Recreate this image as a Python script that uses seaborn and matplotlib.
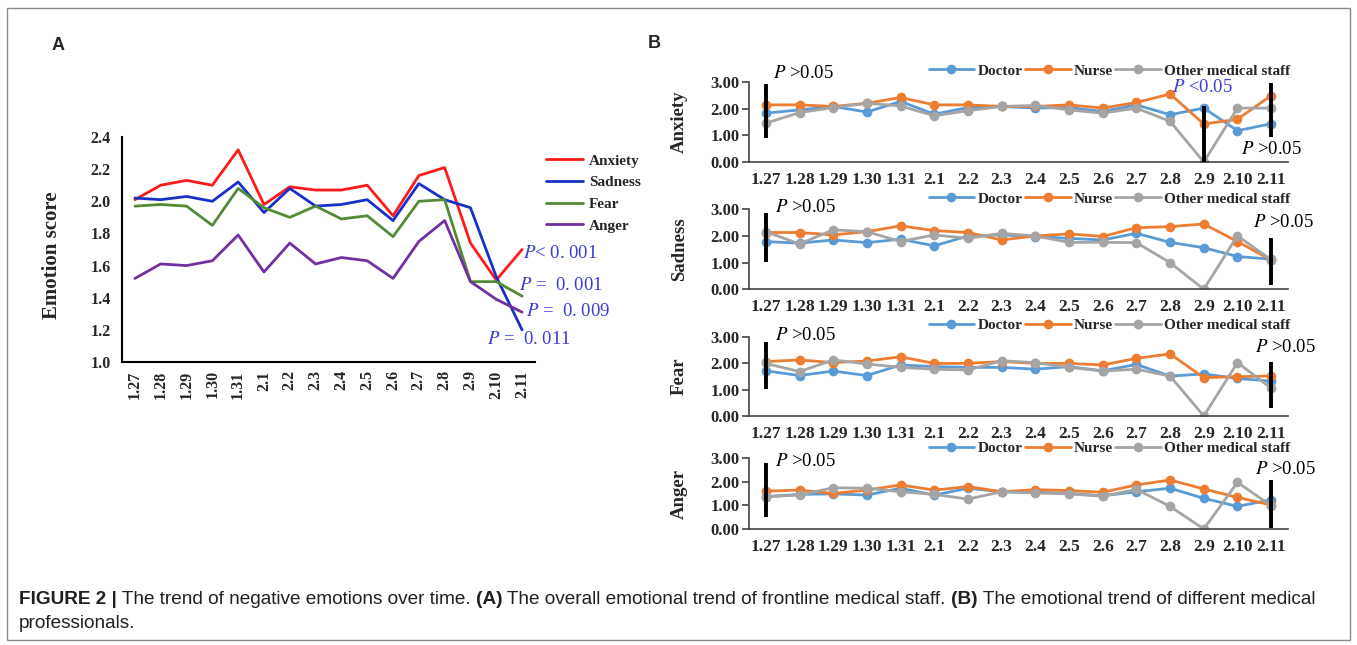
import matplotlib
matplotlib.use("Agg")
import matplotlib.pyplot as plt
import matplotlib.patches as mpatches
from matplotlib.lines import Line2D
import seaborn as sns
import pandas as pd
import numpy as np

# ---------------- data ----------------
dates = ["1.27", "1.28", "1.29", "1.30", "1.31", "2.1", "2.2", "2.3", "2.4",
         "2.5", "2.6", "2.7", "2.8", "2.9", "2.10", "2.11"]

# Panel A: overall emotion score
anxiety = [2.01, 2.10, 2.13, 2.10, 2.32, 1.98, 2.09, 2.07, 2.07, 2.10, 1.91, 2.16, 2.21, 1.74, 1.51, 1.70]
sadness = [2.02, 2.01, 2.03, 2.00, 2.12, 1.93, 2.08, 1.97, 1.98, 2.01, 1.88, 2.11, 2.01, 1.96, 1.53, 1.20]
fear    = [1.97, 1.98, 1.97, 1.85, 2.08, 1.96, 1.90, 1.97, 1.89, 1.91, 1.78, 2.00, 2.01, 1.50, 1.50, 1.41]
anger   = [1.52, 1.61, 1.60, 1.63, 1.79, 1.56, 1.74, 1.61, 1.65, 1.63, 1.52, 1.75, 1.88, 1.50, 1.39, 1.31]
emotions_a = ["Anxiety", "Sadness", "Fear", "Anger"]
p_texts_a = ["$P$< 0. 001", "$P$ =  0. 001", "$P$ =  0. 009", "$P$ =  0. 011"]

# Panel B: by profession
groups = ["Doctor", "Nurse", "Other medical staff"]
anx_doctor = [1.84, 1.96, 2.09, 1.88, 2.28, 1.80, 2.05, 2.09, 2.03, 2.05, 1.90, 2.15, 1.78, 2.03, 1.18, 1.44]
anx_nurse  = [2.15, 2.15, 2.09, 2.21, 2.43, 2.15, 2.15, 2.09, 2.09, 2.15, 2.03, 2.24, 2.56, 1.43, 1.61, 2.50]
anx_other  = [1.46, 1.86, 2.05, 2.21, 2.11, 1.74, 1.93, 2.09, 2.13, 1.96, 1.84, 2.03, 1.53, 0.00, 2.03, 2.03]
sad_doctor = [1.79, 1.73, 1.85, 1.75, 1.88, 1.63, 2.00, 2.04, 1.98, 1.91, 1.85, 2.10, 1.76, 1.56, 1.23, 1.13]
sad_nurse  = [2.13, 2.13, 2.04, 2.16, 2.38, 2.20, 2.13, 1.85, 2.00, 2.08, 1.98, 2.31, 2.35, 2.45, 1.79, 1.10]
sad_other  = [2.16, 1.70, 2.23, 2.16, 1.79, 2.04, 1.91, 2.10, 2.00, 1.76, 1.76, 1.75, 1.00, 0.00, 2.01, 1.10]
fear_doctor = [1.71, 1.53, 1.70, 1.53, 1.93, 1.87, 1.84, 1.84, 1.77, 1.87, 1.71, 1.95, 1.51, 1.59, 1.42, 1.32]
fear_nurse  = [2.06, 2.12, 2.02, 2.08, 2.24, 1.99, 1.99, 2.06, 1.99, 1.99, 1.93, 2.18, 2.35, 1.45, 1.49, 1.51]
fear_other  = [1.99, 1.68, 2.12, 1.97, 1.84, 1.77, 1.74, 2.09, 2.02, 1.84, 1.70, 1.77, 1.51, 0.00, 2.02, 1.05]
ang_doctor = [1.37, 1.47, 1.49, 1.44, 1.73, 1.44, 1.73, 1.58, 1.56, 1.51, 1.41, 1.58, 1.73, 1.30, 0.96, 1.24]
ang_nurse  = [1.61, 1.65, 1.51, 1.65, 1.87, 1.65, 1.80, 1.58, 1.67, 1.63, 1.56, 1.87, 2.08, 1.70, 1.34, 1.02]
ang_other  = [1.37, 1.44, 1.75, 1.73, 1.58, 1.47, 1.27, 1.58, 1.53, 1.49, 1.39, 1.68, 0.96, 0.00, 1.98, 0.99]

# significance bars: (date index, ymin, ymax)
bars_anx  = [(0, 0.90, 2.92), (13, 0.0, 2.09), (15, 0.93, 2.96)]
bars_sad  = [(0, 1.04, 2.88), (15, 0.16, 1.91)]
bars_fear = [(0, 1.02, 2.81), (15, 0.29, 2.06)]
bars_ang  = [(0, 0.52, 2.79), (15, 0.06, 2.08)]

caption_parts = [("FIGURE 2 |", "bold"),
                 (" The trend of negative emotions over time. ", "normal"),
                 ("(A)", "bold"),
                 (" The overall emotional trend of frontline medical staff. ", "normal"),
                 ("(B)", "bold"),
                 (" The emotional trend of different medical", "normal")]
caption_line2 = "professionals."

# ---------------- style ----------------
sns.set_theme(style="white")
plt.rcParams["font.family"] = ["Liberation Serif", "DejaVu Serif"]
plt.rcParams["mathtext.fontset"] = "stix"

W, H = 1357, 645
fig = plt.figure(figsize=(W / 100, H / 100), dpi=100)
fig.patch.set_facecolor("white")

def fx(px):
    return px / W

def fy(py):
    return 1 - py / H

# outer frame
fig.add_artist(mpatches.Rectangle((fx(7), fy(640)), fx(1350) - fx(7), fy(8) - fy(640),
                                  transform=fig.transFigure, fill=False,
                                  edgecolor="#8a8a8a", linewidth=1.0))

serif = ["Liberation Serif", "DejaVu Serif"]
sans = ["Liberation Sans", "DejaVu Sans"]

# ---------------- Panel A ----------------
x_idx = np.arange(len(dates))
dfA = pd.DataFrame({
    "idx": np.tile(x_idx, 4),
    "score": anxiety + sadness + fear + anger,
    "emotion": np.repeat(emotions_a, len(dates)),
})
colA = {"Anxiety": "#ff1a1a", "Sadness": "#1730c8", "Fear": "#548a36", "Anger": "#7030a0"}

axA = fig.add_axes([fx(122), fy(362), fx(535) - fx(122), fy(137) - fy(362)])
sns.lineplot(data=dfA, x="idx", y="score", hue="emotion", palette=colA,
             hue_order=emotions_a, linewidth=2.0, legend=False, ax=axA, sort=False)
axA.set_xlim(-0.5, len(dates) - 0.5)
axA.set_ylim(1.0, 2.4)
axA.set_yticks(np.arange(1.0, 2.41, 0.2))
axA.set_yticklabels([f"{v:.1f}" for v in np.arange(1.0, 2.41, 0.2)],
                    fontsize=11.5, fontweight="bold", family=serif)
axA.set_xticks(x_idx)
axA.set_xticklabels(dates, rotation=90, fontsize=11.5, fontweight="bold", family=serif)
axA.tick_params(axis="both", length=0)
axA.tick_params(axis="y", pad=8)
axA.tick_params(axis="x", pad=6)
for s in ["top", "right"]:
    axA.spines[s].set_visible(False)
for s in ["left", "bottom"]:
    axA.spines[s].set_color("black")
    axA.spines[s].set_linewidth(1.5)
axA.set_xlabel("")
axA.set_ylabel("Emotion score", fontsize=15, fontweight="bold", family=serif)
axA.yaxis.set_label_coords(-0.145, 0.475)

handlesA = [Line2D([0], [0], color=colA[e], lw=2.0) for e in emotions_a]
fig.legend(handlesA, emotions_a, loc="upper left", bbox_to_anchor=(fx(546), fy(154)),
           bbox_transform=fig.transFigure, frameon=False, borderpad=0, borderaxespad=0,
           handlelength=2.4, handletextpad=0.4, labelspacing=0.52,
           prop={"family": serif, "weight": "bold", "size": 11})

pcol = "#3b3bd6"
for txt, (px, py) in zip(p_texts_a, [(523, 253), (519, 285), (526, 312), (487, 339)]):
    fig.text(fx(px), fy(py), txt, ha="left", va="center", fontsize=13.5,
             color=pcol, family=serif)

fig.text(fx(52), fy(45), "A", fontsize=13, fontweight="bold", family=sans,
         ha="left", va="center")
fig.text(fx(648), fy(43), "B", fontsize=13, fontweight="bold", family=sans,
         ha="left", va="center")

# ---------------- Panel B ----------------
colB = {"Doctor": "#5b9bd5", "Nurse": "#ed7d31", "Other medical staff": "#a5a5a5"}
panels = [
    ("Anxiety", [anx_doctor, anx_nurse, anx_other], bars_anx, (82.3, 162.0), 71),
    ("Sadness", [sad_doctor, sad_nurse, sad_other], bars_sad, (209.3, 289.3), 199),
    ("Fear", [fear_doctor, fear_nurse, fear_other], bars_fear, (336.7, 416.0), 325),
    ("Anger", [ang_doctor, ang_nurse, ang_other], bars_ang, (458.3, 529.0), 448),
]
axes_b = []
for name, series, bars, (ytop, ybot), leg_y in panels:
    ax = fig.add_axes([fx(749), fy(ybot), fx(1288) - fx(749), fy(ytop) - fy(ybot)])
    axes_b.append(ax)
    dfB = pd.DataFrame({
        "idx": np.tile(x_idx, 3),
        "score": series[0] + series[1] + series[2],
        "group": np.repeat(groups, len(dates)),
    })
    sns.lineplot(data=dfB, x="idx", y="score", hue="group", hue_order=groups,
                 palette=colB, marker="o", markersize=7, markeredgewidth=0,
                 linewidth=2.0, ax=ax, sort=False, legend=False)
    for (xi, y0, y1) in bars:
        ax.vlines(xi, y0, y1, color="black", linewidth=2.8, zorder=5)
    ax.set_xlim(-0.5, len(dates) - 0.5)
    ax.set_ylim(0, 3)
    ax.set_yticks([0, 1, 2, 3])
    ax.set_yticklabels(["0.00", "1.00", "2.00", "3.00"], fontsize=12,
                       fontweight="bold", family=serif)
    ax.set_xticks(x_idx)
    ax.set_xticklabels(dates, fontsize=12.5, fontweight="bold", family=serif)
    ax.tick_params(axis="x", length=0, pad=7)
    ax.tick_params(axis="y", length=5, width=1.2, direction="out", pad=2,
                   color="#444444", left=True)
    for s in ["top", "right"]:
        ax.spines[s].set_visible(False)
    for s in ["left", "bottom"]:
        ax.spines[s].set_color("#444444")
        ax.spines[s].set_linewidth(1.2)
    ax.set_xlabel("")
    ax.set_ylabel(name, fontsize=13.5, fontweight="bold", family=serif)
    ax.yaxis.set_label_coords(-0.113, 0.5)
    hB = [Line2D([0], [0], color=colB[g], lw=2.0, marker="o", markersize=7,
                 markeredgewidth=0) for g in groups]
    ax.legend(hB, groups, loc="center right", bbox_to_anchor=(fx(1290), fy(leg_y)),
              bbox_transform=fig.transFigure, ncol=3, frameon=False, borderpad=0,
              borderaxespad=0, handlelength=3.0, handletextpad=0.2, columnspacing=0.15,
              prop={"family": serif, "weight": "bold", "size": 11})

# P-value labels in panel B
ptxtB = [
    ("$P$ >0.05", 773, 73, "black"),
    ("$P$ <0.05", 1172, 88, pcol),
    ("$P$ >0.05", 1241, 150, "black"),
    ("$P$ >0.05", 775, 208, "black"),
    ("$P$ >0.05", 1253, 222, "black"),
    ("$P$ >0.05", 775, 336, "black"),
    ("$P$ >0.05", 1255, 347, "black"),
    ("$P$ >0.05", 775, 461, "black"),
    ("$P$ >0.05", 1255, 470, "black"),
]
for txt, px, py, c in ptxtB:
    fig.text(fx(px), fy(py), txt, ha="left", va="center", fontsize=13.5,
             color=c, family=serif)

# ---------------- caption ----------------
capcol = "#231f20"
capsize = 13.65
prev = None
for s, w in caption_parts:
    if prev is None:
        prev = axA.annotate(s, xy=(fx(19), fy(599)), xycoords="figure fraction",
                            ha="left", va="center", fontsize=capsize, fontweight=w,
                            family=sans, color=capcol, annotation_clip=False)
    else:
        prev = axA.annotate(s, xy=(1, 0), xycoords=prev, ha="left", va="bottom",
                            fontsize=capsize, fontweight=w, family=sans, color=capcol,
                            annotation_clip=False)
fig.text(fx(19), fy(624), caption_line2, ha="left", va="center", fontsize=capsize,
         family=sans, color=capcol)

fig.savefig("out.png", dpi=100, facecolor="white")
